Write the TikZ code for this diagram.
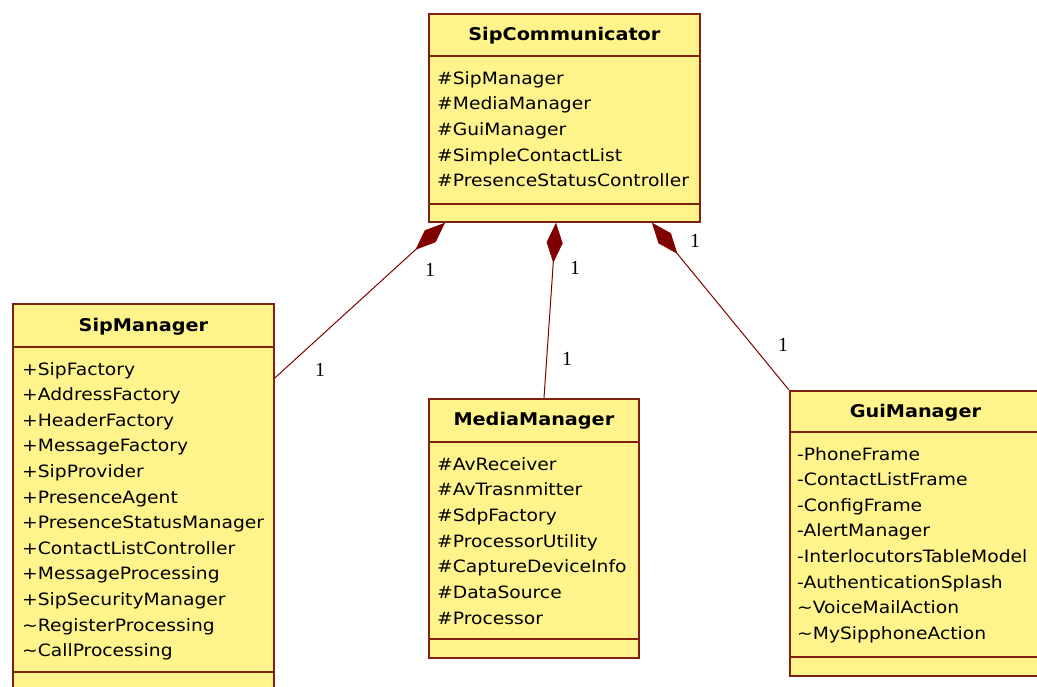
\documentclass[tikz,border=0pt]{standalone}
\usepackage{fontspec}
\usetikzlibrary{calc,arrows.meta}
\newfontfamily\umlfont[FakeStretch=1.1]{DejaVu Sans}
\newfontfamily\multfont{Liberation Serif}
\definecolor{umlfill}{RGB}{255,244,140}
\definecolor{umlline}{RGB}{128,32,16}
\definecolor{umlmaroon}{RGB}{128,0,0}
\tikzset{
  classbox/.style={draw=umlline, fill=umlfill, line width=1.8pt, rectangle,
    inner sep=0pt, anchor=north west},
  sepline/.style={draw=umlline, line width=1.8pt},
  classtitle/.style={inner sep=0pt, anchor=base, font=\umlfont\bfseries\fontsize{17.5}{20}\selectfont},
  member/.style={inner sep=0pt, anchor=base west, font=\umlfont\fontsize{17}{20}\selectfont},
  comp/.style={draw=umlmaroon, line width=1pt,
    -{Diamond[length=40pt,width=16pt,fill=umlmaroon,line width=0.5pt]}},
  mult/.style={inner sep=0pt, font=\multfont\fontsize{20}{22}\selectfont},
}
\begin{document}
\begin{tikzpicture}[x=1pt,y=-1pt]
\useasboundingbox (0,0) rectangle (1037,686);
\fill[white] (0,0) rectangle (1037,686);
\clip (0,0) rectangle (1037,686);

% ---- SipCommunicator ----
\node[classbox, minimum width=271pt, minimum height=208pt] (sc) at (428,13) {};
\draw[sepline] ($(sc.north west)+(0,43)$) -- ($(sc.north east)+(0,43)$);
\draw[sepline] ($(sc.south west)+(0,-19)$) -- ($(sc.south east)+(0,-19)$);
\node[classtitle] (sc-title) at ($(sc.north)+(0,27)$) {SipCommunicator};
\foreach \t [count=\i] in {\#SipManager,\#MediaManager,\#GuiManager,\#SimpleContactList,\#PresenceStatusController}
  \node[member] (sc-m\i) at ($(sc.north west)+(9,{43+28+(\i-1)*25.7})$) {\t};

% ---- SipManager ----
\node[classbox, minimum width=261pt, minimum height=387pt] (sm) at (12,303) {};
\draw[sepline] ($(sm.north west)+(0,44)$) -- ($(sm.north east)+(0,44)$);
\draw[sepline] ($(sm.south west)+(0,-20)$) -- ($(sm.south east)+(0,-20)$);
\node[classtitle] (sm-title) at ($(sm.north)+(0,28)$) {SipManager};
\foreach \t [count=\i] in {+SipFactory,+AddressFactory,+HeaderFactory,+MessageFactory,+SipProvider,+PresenceAgent,+PresenceStatusManager,+ContactListController,+MessageProcessing,+SipSecurityManager,\textasciitilde RegisterProcessing,\textasciitilde CallProcessing}
  \node[member] (sm-m\i) at ($(sm.north west)+(10,{44+28+(\i-1)*25.6})$) {\t};

% ---- MediaManager ----
\node[classbox, minimum width=210pt, minimum height=259pt] (mm) at (428,398) {};
\draw[sepline] ($(mm.north west)+(0,44)$) -- ($(mm.north east)+(0,44)$);
\draw[sepline] ($(mm.south west)+(0,-20)$) -- ($(mm.south east)+(0,-20)$);
\node[classtitle] (mm-title) at ($(mm.north)+(0,27)$) {MediaManager};
\foreach \t [count=\i] in {\#AvReceiver,\#AvTrasnmitter,\#SdpFactory,\#ProcessorUtility,\#CaptureDeviceInfo,\#DataSource,\#Processor}
  \node[member] (mm-m\i) at ($(mm.north west)+(9,{44+28+(\i-1)*25.7})$) {\t};

% ---- GuiManager ----
\node[classbox, minimum width=251pt, minimum height=285pt] (gm) at (789,390) {};
\draw[sepline] ($(gm.north west)+(0,42)$) -- ($(gm.north east)+(0,42)$);
\draw[sepline] ($(gm.south west)+(0,-20)$) -- ($(gm.south east)+(0,-20)$);
\node[classtitle] (gm-title) at ($(gm.north)+(0,27)$) {GuiManager};
\foreach \t [count=\i] in {-PhoneFrame,-ContactListFrame,-ConfigFrame,-AlertManager,-InterlocutorsTableModel,-AuthenticationSplash,\textasciitilde VoiceMailAction,\textasciitilde MySipphoneAction}
  \node[member] (gm-m\i) at ($(gm.north west)+(8,{42+28+(\i-1)*25.6})$) {\t};

% ---- composition links ----
\draw[comp] ($(sm.north east)+(0,75)$) -- ($(sc.south west)+(17,0)$);
\draw[comp] ($(mm.north west)+(116,0)$) -- ($(sc.south west)+(128,0)$);
\draw[comp] (gm.north west) -- ($(sc.south west)+(224,0)$);

% ---- multiplicities ----
\node[mult] (m-sc-sm) at (430,270) {1};
\node[mult] (m-sm) at (320,370) {1};
\node[mult] (m-sc-mm) at (575,268) {1};
\node[mult] (m-mm) at (567,359) {1};
\node[mult] (m-sc-gm) at (695,241) {1};
\node[mult] (m-gm) at (783,345) {1};
\end{tikzpicture}
\end{document}
